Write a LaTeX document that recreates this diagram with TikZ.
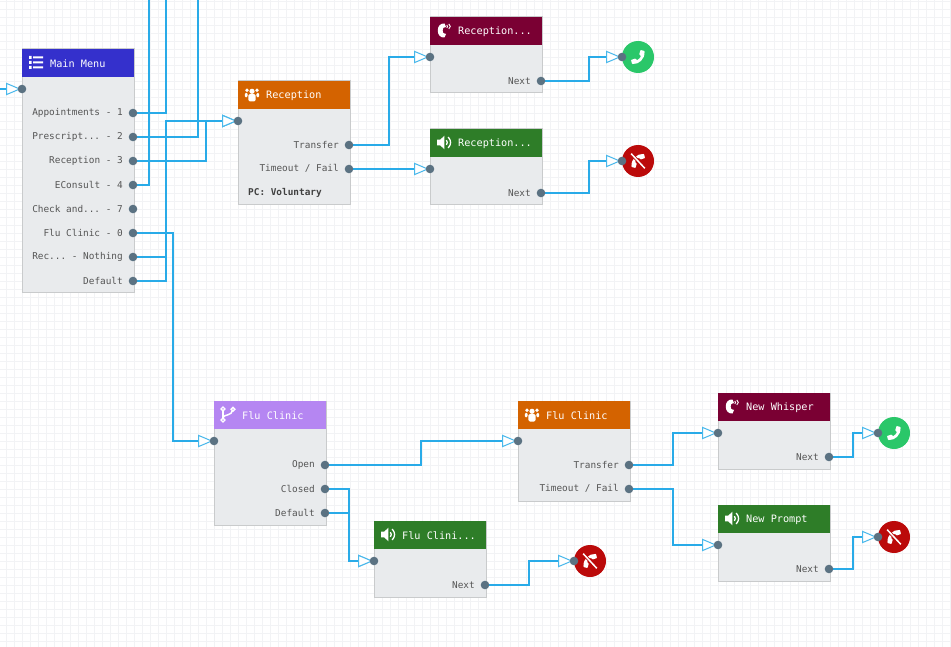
\documentclass[tikz,border=0pt]{standalone}
\usepackage{fontspec}
\setmonofont{DejaVu Sans Mono}
\usetikzlibrary{arrows.meta,backgrounds}
\definecolor{gridc}{HTML}{F2F3F5}
\definecolor{bodyc}{HTML}{E9EBED}
\definecolor{edgec}{HTML}{C9CBCC}
\definecolor{portc}{HTML}{5B7282}
\definecolor{wirec}{HTML}{29ABE8}
\definecolor{labelc}{HTML}{555555}
\definecolor{menuc}{HTML}{3430CC}
\definecolor{queuec}{HTML}{D46300}
\definecolor{whisperc}{HTML}{7A0033}
\definecolor{promptc}{HTML}{2E7D28}
\definecolor{branchc}{HTML}{B586F2}
\definecolor{okc}{HTML}{2AC769}
\definecolor{endc}{HTML}{BB0A0A}
\pgfdeclarelayer{boxes}
\pgfdeclarelayer{wires}
\pgfsetlayers{background,boxes,wires,main}
\tikzset{
  x=1pt,y=-1pt,
  boxbody/.style={draw=edgec,line width=1pt,fill=bodyc,anchor=north west,minimum width=112pt,inner sep=0pt,outer sep=0pt},
  boxhead/.style={fill=#1,anchor=north west,minimum width=112pt,minimum height=28pt,inner sep=0pt,outer sep=0pt},
  titletext/.style={text=white,anchor=west,inner sep=0pt,font=\ttfamily\fontsize{10.2}{12}\selectfont},
  lbl/.style={text=labelc,anchor=east,inner sep=0pt,font=\ttfamily\fontsize{9.4}{11}\selectfont},
  pclbl/.style={text=black!75,anchor=west,inner sep=0pt,font=\ttfamily\bfseries\fontsize{9.4}{11}\selectfont},
  port/.style={circle,fill=portc,minimum size=8.6pt,inner sep=0pt,outer sep=0pt},
  endcircle/.style={circle,fill=#1,minimum size=32pt,inner sep=0pt,outer sep=0pt},
  wire/.style={draw=wirec,line width=2pt},
  into/.style={wire,-{Triangle[open,fill=white,length=15pt,width=12.5pt,line width=1pt,color=wirec!85!white]},shorten >=1pt},
  pics/iconlist/.style={code={
    \fill[white] (-3,-6) rectangle (7,-4) (-3,-1) rectangle (7,1) (-3,4) rectangle (7,6);
    \fill[white] (-7,-6.5) rectangle (-4.5,-3.5) (-7,-1.5) rectangle (-4.5,1.5) (-7,3.5) rectangle (-4.5,6.5);
  }},
  pics/iconpeople/.style={code={
    \fill[white] (0,-3.2) circle (2.6) (-5,-4.2) circle (1.9) (5,-4.2) circle (1.9);
    \fill[white,rounded corners=1.4pt] (-3.6,7) rectangle (3.6,-0.4);
    \fill[white,rounded corners=1.2pt] (-7.2,2.8) rectangle (-4.4,-1.6) (4.4,2.8) rectangle (7.2,-1.6);
  }},
  pics/iconwhisper/.style={code={
    \fill[white] (0.5,-7) -- (2,-3.5) -- (-0.7,-2.6) .. controls (-1.6,-1) and (-1.6,1) .. (-0.7,2.6) -- (2,3.5) -- (0.5,7)
      .. controls (-8.5,8) and (-8.5,-8) .. (0.5,-7) -- cycle;
    \draw[white,line width=.9pt] (2.8,-5.6) .. controls (3.8,-4.8) and (3.8,-3.4) .. (2.8,-2.6);
    \draw[white,line width=.9pt] (4.8,-6.6) .. controls (6.8,-5) and (6.8,-3.2) .. (4.8,-1.6);
  }},
  pics/iconspeaker/.style={code={
    \fill[white] (-7,-2.8) -- (-3.8,-2.8) -- (0.4,-6.8) -- (0.4,6.8) -- (-3.8,2.8) -- (-7,2.8) -- cycle;
    \draw[white,line width=1.3pt] (2.4,-2.4) .. controls (3.6,-1) and (3.6,1) .. (2.4,2.4);
    \draw[white,line width=1.3pt] (4.2,-5.4) .. controls (7.4,-2) and (7.4,2) .. (4.2,5.4);
  }},
  pics/iconbranch/.style={code={
    \draw[white,line width=1.5pt] (-5,-5.5) -- (-5,5.5);
    \draw[white,line width=1.5pt] (-5,3) .. controls (-4,0) and (4,1) .. (4.5,-4);
    \draw[white,line width=1.4pt,fill=branchc] (-5,-5.6) circle (1.9) (-5,5.6) circle (1.9) (5,-5.2) circle (1.9);
  }},
  pics/iconphone/.style={code={
    \fill[white,rounded corners=.6pt] (2.5,-7) -- (6.5,-6) .. controls (7,2) and (1,7.5) .. (-6,7) -- (-7,3) -- (-2.5,1.5) -- (-1,3.2)
      .. controls (0.5,2.5) and (2.3,0.7) .. (3,-1) -- (1.2,-2.5) -- cycle;
  }},
  pics/iconhangup/.style={code={
    \fill[white,rotate=180,rounded corners=.6pt] (2.5,-7) -- (6.5,-6) .. controls (7,2) and (1,7.5) .. (-6,7) -- (-7,3) -- (-2.5,1.5) -- (-1,3.2)
      .. controls (0.5,2.5) and (2.3,0.7) .. (3,-1) -- (1.2,-2.5) -- cycle;
    \draw[endc,line width=3.2pt] (-6.5,-7) -- (6.5,7);
    \draw[white,line width=1.5pt] (-6.8,-7.3) -- (6.8,7.3);
  }},
}
% name, left, top, height, header colour, title
\newcommand{\flowbox}[6]{%
  \node[boxbody,minimum height=#4pt] (#1) at (#2,#3) {};
  \node[boxhead=#5] (#1head) at (#2,#3) {};
  \node[titletext] (#1title) at (#2+28,#3+14.5) {#6};
}
\begin{document}
\begin{tikzpicture}
\useasboundingbox (0,0) rectangle (951,647);
\begin{pgfonlayer}{background}
  \fill[white] (0,0) rectangle (951,647);
  \foreach \gx in {6,14,...,950} \draw[gridc,line width=.8pt] (\gx,0) -- (\gx,647);
  \foreach \gy in {1,9,...,646} \draw[gridc,line width=.8pt] (0,\gy) -- (951,\gy);
\end{pgfonlayer}

\begin{pgfonlayer}{boxes}
  \flowbox{menu}{22}{49}{244}{menuc}{Main Menu}
  \flowbox{recq}{238}{81}{124}{queuec}{Reception}
  \flowbox{recw}{430}{17}{76}{whisperc}{Reception...}
  \flowbox{recp}{430}{129}{76}{promptc}{Reception...}
  \flowbox{flub}{214}{401}{124}{branchc}{Flu Clinic}
  \flowbox{fluq}{518}{401}{100}{queuec}{Flu Clinic}
  \flowbox{flup}{374}{521}{76}{promptc}{Flu Clini...}
  \flowbox{neww}{718}{393}{76}{whisperc}{New Whisper}
  \flowbox{newp}{718}{505}{76}{promptc}{New Prompt}
  \pic at (36,62.5) {iconlist};
  \pic at (252,94.5) {iconpeople};
  \pic at (444,30.5) {iconwhisper};
  \pic at (444,142.5) {iconspeaker};
  \pic at (228,414.5) {iconbranch};
  \pic at (532,414.5) {iconpeople};
  \pic at (388,534.5) {iconspeaker};
  \pic at (732,406.5) {iconwhisper};
  \pic at (732,518.5) {iconspeaker};

  \node[endcircle=okc] (ok1) at (638,57) {};
  \node[endcircle=endc] (end1) at (638,161) {};
  \node[endcircle=endc] (end2) at (590,561) {};
  \node[endcircle=okc] (ok2) at (894,433) {};
  \node[endcircle=endc] (end3) at (894,537) {};
  \pic at (638,57) {iconphone};
  \pic at (638,161) {iconhangup};
  \pic at (590,561) {iconhangup};
  \pic at (894,433) {iconphone};
  \pic at (894,537) {iconhangup};
\end{pgfonlayer}

% labels
\node[lbl] (l1) at (123,112.8) {Appointments - 1};
\node[lbl] (l2) at (123,136.8) {Prescript... - 2};
\node[lbl] (l3) at (123,160.8) {Reception - 3};
\node[lbl] (l4) at (123,184.8) {EConsult - 4};
\node[lbl] (l5) at (123,208.8) {Check and... - 7};
\node[lbl] (l6) at (123,232.8) {Flu Clinic - 0};
\node[lbl] (l7) at (123,256.8) {Rec... - Nothing};
\node[lbl] (l8) at (123,280.8) {Default};
\node[lbl] (l9) at (339,144.8) {Transfer};
\node[lbl] (l10) at (339,168.8) {Timeout / Fail};
\node[pclbl] (l11) at (248,192.8) {PC: Voluntary};
\node[lbl] (l12) at (531,80.8) {Next};
\node[lbl] (l13) at (531,192.8) {Next};
\node[lbl] (l14) at (315,464.8) {Open};
\node[lbl] (l15) at (315,488.8) {Closed};
\node[lbl] (l16) at (315,512.8) {Default};
\node[lbl] (l17) at (619,464.8) {Transfer};
\node[lbl] (l18) at (619,488.8) {Timeout / Fail};
\node[lbl] (l19) at (475,584.8) {Next};
\node[lbl] (l20) at (819,456.8) {Next};
\node[lbl] (l21) at (819,568.8) {Next};

% ports
\node[port] (menuin) at (22,89) {};
\foreach \pn/\py in {1/113,2/137,3/161,4/185,5/209,6/233,7/257,8/281}
  \node[port] (m\pn) at (133,\py) {};
\node[port] (recqin) at (238,121) {};
\node[port] (recqa) at (349,145) {};
\node[port] (recqb) at (349,169) {};
\node[port] (recwin) at (430,57) {};
\node[port] (recwout) at (541,81) {};
\node[port] (recpin) at (430,169) {};
\node[port] (recpout) at (541,193) {};
\node[port] (ok1in) at (622,57) {};
\node[port] (end1in) at (622,161) {};
\node[port] (flubin) at (214,441) {};
\node[port] (fluba) at (325,465) {};
\node[port] (flubb) at (325,489) {};
\node[port] (flubc) at (325,513) {};
\node[port] (fluqin) at (518,441) {};
\node[port] (fluqa) at (629,465) {};
\node[port] (fluqb) at (629,489) {};
\node[port] (flupin) at (374,561) {};
\node[port] (flupout) at (485,585) {};
\node[port] (end2in) at (574,561) {};
\node[port] (newwin) at (718,433) {};
\node[port] (newwout) at (829,457) {};
\node[port] (newpin) at (718,545) {};
\node[port] (newpout) at (829,569) {};
\node[port] (ok2in) at (878,433) {};
\node[port] (end3in) at (878,537) {};

% free ends and bends
\coordinate (offleft) at (0,89);
\coordinate (up1) at (166,-3);
\coordinate (up2) at (198,-3);
\coordinate (up4) at (149,-3);
\coordinate (b3) at (206,121);
\coordinate (b6) at (173,441);
\coordinate (b7) at (166,121);
\coordinate (c1) at (389,57);
\coordinate (c2) at (589,57);
\coordinate (c3) at (589,161);
\coordinate (c4) at (421,441);
\coordinate (c5) at (349,561);
\coordinate (c6) at (529,561);
\coordinate (c7) at (673,433);
\coordinate (c8) at (673,545);
\coordinate (c9) at (853,433);
\coordinate (c10) at (853,537);

\begin{pgfonlayer}{wires}
  \draw[wire] (m1.center) -| (up1);
  \draw[wire] (m2.center) -| (up2);
  \draw[wire] (m4.center) -| (up4);
  \draw[into] (offleft) -- (menuin.center);
  \draw[into] (m3.center) -| (b3) -- (recqin.center);
  \draw[into] (m6.center) -| (b6) -- (flubin.center);
  \draw[into] (m7.center) -| (b7) -- (recqin.center);
  \draw[into] (m8.center) -| (b7) -- (recqin.center);
  \draw[into] (recqa.center) -| (c1) -- (recwin.center);
  \draw[into] (recqb.center) -- (recpin.center);
  \draw[into] (recwout.center) -| (c2) -- (ok1in.center);
  \draw[into] (recpout.center) -| (c3) -- (end1in.center);
  \draw[into] (fluba.center) -| (c4) -- (fluqin.center);
  \draw[into] (flubb.center) -| (c5) -- (flupin.center);
  \draw[into] (flubc.center) -| (c5) -- (flupin.center);
  \draw[into] (flupout.center) -| (c6) -- (end2in.center);
  \draw[into] (fluqa.center) -| (c7) -- (newwin.center);
  \draw[into] (fluqb.center) -| (c8) -- (newpin.center);
  \draw[into] (newwout.center) -| (c9) -- (ok2in.center);
  \draw[into] (newpout.center) -| (c10) -- (end3in.center);
\end{pgfonlayer}
\end{tikzpicture}
\end{document}
